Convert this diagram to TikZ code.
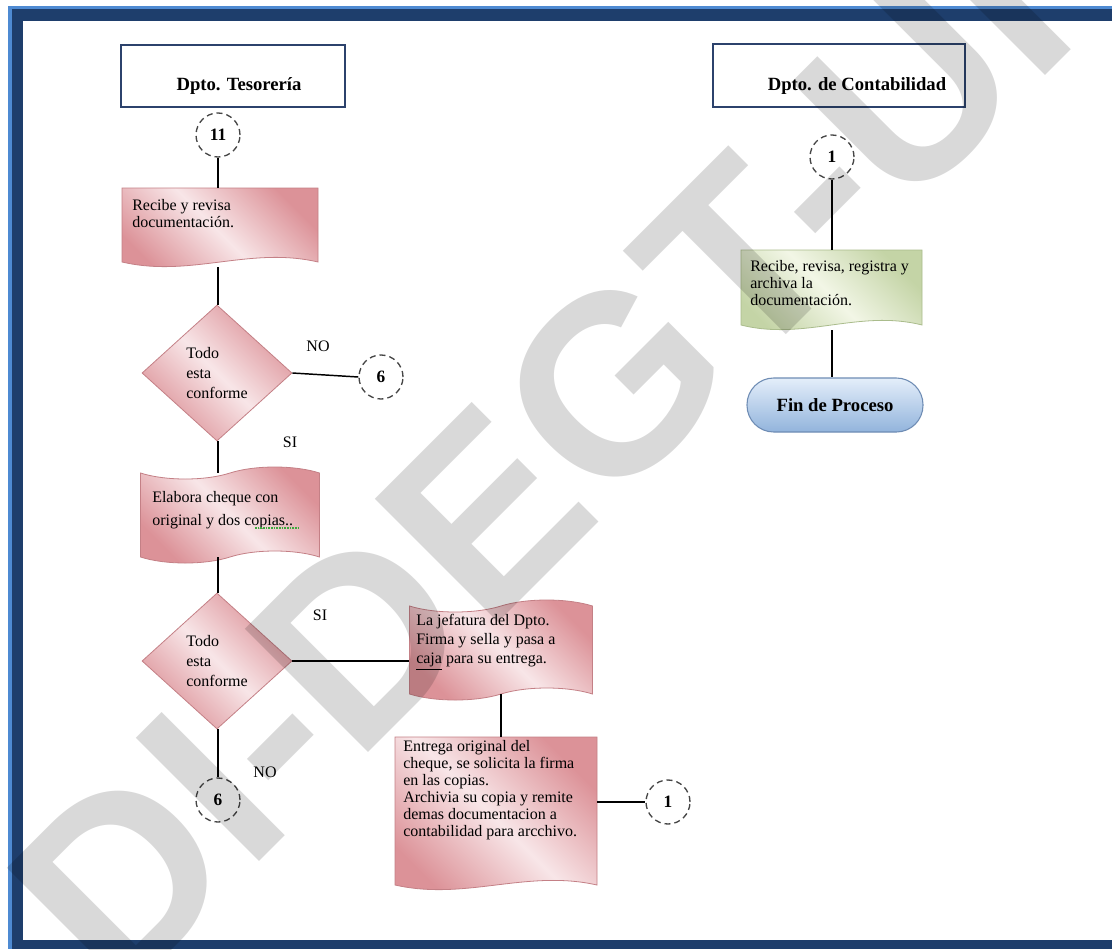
\documentclass[tikz,border=0pt]{standalone}
\usepackage{fontspec}
\setmainfont{Liberation Serif}
\newfontfamily\wmfont{Liberation Sans}
\usetikzlibrary{shapes.geometric,shapes.symbols,calc}
\definecolor{frameDark}{RGB}{30,62,108}
\definecolor{frameLight}{RGB}{78,138,210}
\definecolor{pinkD}{RGB}{220,146,152}
\definecolor{pinkL}{RGB}{248,230,232}
\definecolor{pinkE}{RGB}{196,128,134}
\definecolor{greenD}{RGB}{196,212,166}
\definecolor{greenL}{RGB}{242,246,230}
\definecolor{greenE}{RGB}{170,188,140}
\definecolor{blueD}{RGB}{146,180,220}
\definecolor{blueL}{RGB}{228,238,250}
\definecolor{blueE}{RGB}{110,140,180}
\definecolor{hdrC}{RGB}{44,66,108}
\definecolor{dashC}{RGB}{70,70,70}
\definecolor{spellG}{RGB}{60,170,60}
\newcommand\docpath[1]{(#1.north west) -- (#1.north east) -- (#1.south east) .. controls ($(#1.south east)!0.35!(#1.south west)+(0,-16)$) and ($(#1.south east)!0.65!(#1.south west)+(0,16)$) .. (#1.south west) -- cycle}
\tikzset{
  conn/.style={circle, draw=dashC, dashed, dash pattern=on 4.5pt off 3pt, line width=1pt, minimum size=33pt, inner sep=0pt, font=\fontsize{13}{13}\selectfont\bfseries},
  wire/.style={line width=1.1pt, black},
  lbl/.style={font=\fontsize{12}{12}\selectfont, inner sep=0pt},
  hdrbox/.style={draw=hdrC, line width=1.8pt, fill=white, inner sep=0pt},
  hdrtext/.style={font=\fontsize{14}{14}\selectfont\bfseries, inner sep=0pt},
  ghost/.style={inner sep=0pt, outer sep=0pt},
  pinkfill/.style={left color=pinkD, right color=pinkD, middle color=pinkL, shading angle=135, draw=pinkE, line width=0.6pt},
  greenfill/.style={left color=greenD, right color=greenD, middle color=greenL, shading angle=135, draw=greenE, line width=0.6pt},
  bluefill/.style={top color=blueL, bottom color=blueD, draw=blueE, line width=0.8pt},
  decision/.style={diamond, pinkfill, inner sep=0pt, minimum width=112.5pt, minimum height=102pt, align=left, font=\fontsize{12}{15}\selectfont},
  tapebox/.style={tape, pinkfill, inner sep=0pt, tape bend top=in and out, tape bend bottom=in and out, tape bend height=9pt},
  bodytext/.style={align=left, inner sep=0pt, anchor=west},
  watermark/.style={anchor=base west, inner sep=0pt, outer sep=0pt, rotate=45, text=black, text opacity=0.15, font=\wmfont\fontsize{190}{190}\selectfont\bfseries},
}
\begin{document}
\begin{tikzpicture}[x=0.75pt, y=-0.75pt]
\useasboundingbox (0,0) rectangle (1112,949);
% frame
\fill[frameLight] (8,6) rectangle (1112,949);
\fill[frameDark] (12,9) rectangle (1112,949);
\fill[white] (23,21) rectangle (1112,940);

% headers
\node[hdrbox, minimum width=168pt, minimum height=46.5pt] (h1) at (233,76) {};
\node[hdrtext] (h1t) at (239,86) {Dpto. Tesorería};
\node[hdrbox, minimum width=189pt, minimum height=47.25pt] (h2) at (839,75.5) {};
\node[hdrtext] (h2t) at (857,86) {Dpto. de Contabilidad};

% left column
\node[conn] (c11) at (218,135) {11};

\node[ghost, minimum width=147pt, minimum height=55.5pt] (b1) at (220,225) {};
\path[pinkfill] \docpath{b1};
\node[bodytext, font=\fontsize{12}{12.75}\selectfont] (b1t) at (132,214) {Recibe y revisa\\documentación.};

\node[decision] (d1) at (217,373) {Todo\\esta\\conforme};
\node[conn] (c6a) at (381,377) {6};
\node[lbl] (no1) at (318,346) {NO};
\node[lbl] (si1) at (290,442) {SI};

\node[tapebox, minimum width=134.25pt, minimum height=72pt] (b2) at (230,515) {};
\node[bodytext, font=\fontsize{12}{17}\selectfont] (b2t) at (152,510) {Elabora cheque con\\original y dos copias..};
\draw[spellG, line width=0.8pt, dash pattern=on 1.2pt off 0.8pt] (255,528) -- (300,528);

\node[decision] (d2) at (217,661) {Todo\\esta\\conforme};
\node[lbl] (si2) at (320,615) {SI};

\node[tapebox, minimum width=137.25pt, minimum height=75pt] (b3) at (501,650) {};
\node[bodytext, font=\fontsize{12}{14.25}\selectfont] (b3t) at (416,642) {La jefatura del Dpto.\\Firma y sella y pasa a\\\underline{caja} para su entrega.};

\node[ghost, minimum width=151.5pt, minimum height=111pt] (b4) at (496,811) {};
\path[pinkfill] \docpath{b4};
\node[bodytext, font=\fontsize{12}{12.75}\selectfont] (b4t) at (403,790) {Entrega original del\\cheque, se solicita la firma\\en las copias.\\Archivia su copia y remite\\demas documentacion a\\contabilidad para arcchivo.};

\node[conn] (c1a) at (668,802) {1};
\node[conn] (c6b) at (218,800) {6};
\node[lbl] (no2) at (265,772) {NO};

% right column
\node[conn] (c1b) at (832,157) {1};
\node[ghost, minimum width=135.75pt, minimum height=56.25pt] (g1) at (831.5,287.5) {};
\path[greenfill] \docpath{g1};
\node[bodytext, font=\fontsize{12}{12.75}\selectfont] (g1t) at (750,283) {Recibe, revisa, registra y\\archiva la\\documentación.};
\node[bluefill, rounded corners=20pt, minimum width=132pt, minimum height=40.5pt, inner sep=0pt, font=\fontsize{14}{14}\selectfont\bfseries] (t1) at (835,405) {Fin de Proceso};

% connectors
\draw[wire] (c11) -- (b1.north -| c11);
\draw[wire] ($(b1.south -| c11)+(0,5)$) -- (d1.north -| c11);
\draw[wire] (d1.east) -- (c6a.west);
\draw[wire] (d1.south -| c11) -- (b2.north -| c11);
\draw[wire] (b2.south -| c11) -- (d2.north -| c11);
\draw[wire] (d2.east) -- (d2.east -| b3.west);
\draw[wire] (b3.south) -- (b3.south |- b4.north);
\draw[wire] (c1a.west -| b4.east) -- (c1a.west);
\draw[wire] (d2.south -| c6b) -- (c6b.north);
\draw[wire] (c1b) -- (g1.north -| c1b);
\draw[wire] ($(g1.south -| c1b)+(0,5)$) -- (t1.north -| c1b);

% watermark
\node[watermark] (wm) at (118,1003) {DI-DEGT-UI};
\end{tikzpicture}
\end{document}
